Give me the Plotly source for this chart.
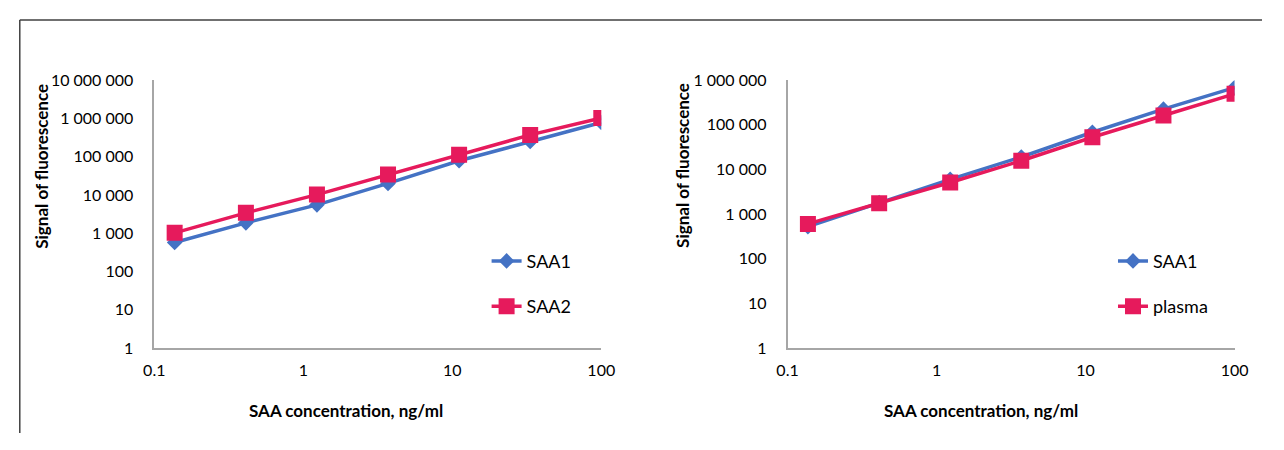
import plotly.graph_objects as go

# ---- data ----
conc = [0.137, 0.412, 1.235, 3.704, 11.11, 33.33, 100]
left_saa1 = [570, 1860, 5500, 20000, 78000, 250000, 780000]
left_saa2 = [1020, 3400, 10200, 34000, 112000, 370000, 1020000]
right_saa1 = [520, 1800, 6000, 19000, 68000, 224000, 680000]
right_plasma = [600, 1740, 5100, 15600, 52600, 161000, 494000]

left_yticks = [1, 10, 100, 1000, 10000, 100000, 1000000, 10000000]
left_ylabels = ["1", "10", "100", "1 000", "10 000", "100 000", "1 000 000", "10 000 000"]
right_yticks = [1, 10, 100, 1000, 10000, 100000, 1000000]
right_ylabels = ["1", "10", "100", "1 000", "10 000", "100 000", "1 000 000"]
xticks = [0.1, 1, 10, 100]
xlabels = ["0.1", "1", "10", "100"]

x_title = "SAA concentration, ng/ml"
y_title = "Signal of fluorescence"

BLUE = "#4472C4"
PINK = "#E61A5C"
AXIS = "#A6A6A6"
FONT = "Lato"

# page is 1284x450; body keeps its default 8px margin, so the figure fills the rest
PAGE_MARGIN = 8
W, H = 1284 - 2 * PAGE_MARGIN, 450 - 2 * PAGE_MARGIN


def px(sx):
    return (sx - PAGE_MARGIN) / W


def py(sy):
    return 1 - (sy - PAGE_MARGIN) / H


fig = go.Figure()


def add(x, y, name, color, symbol, size, xa, ya, legend, group):
    fig.add_trace(go.Scatter(
        x=x, y=y, name=name, mode="lines+markers",
        line=dict(color=color, width=3.5),
        marker=dict(symbol=symbol, size=size, color=color),
        xaxis=xa, yaxis=ya, legend=legend, legendgroup=group))


add(conc, left_saa1, "SAA1", BLUE, "diamond", 12, "x", "y", "legend", "a")
add(conc, left_saa2, "SAA2", PINK, "square", 16, "x", "y", "legend", "b")
add(conc, right_saa1, "SAA1", BLUE, "diamond", 12, "x2", "y2", "legend2", "c")
add(conc, right_plasma, "plasma", PINK, "square", 16, "x2", "y2", "legend2", "d")

ydom = [py(353), py(73)]
axis_common = dict(showgrid=False, zeroline=False, showline=True, linecolor=AXIS,
                   linewidth=1.5, ticks="", tickfont=dict(family=FONT, size=16, color="#000"))

fig.update_layout(
    width=W, height=H, margin=dict(l=0, r=0, t=0, b=0),
    paper_bgcolor="white", plot_bgcolor="white",
    font=dict(family=FONT, color="#000"),
    xaxis=dict(type="log", domain=[px(146), px(602)], range=[-1, 2], anchor="y",
               tickvals=xticks, ticktext=xlabels, ticklabelstandoff=7, **axis_common),
    yaxis=dict(type="log", domain=ydom, range=[0, 7], anchor="x",
               tickvals=left_yticks, ticktext=left_ylabels, ticklabelstandoff=16, **axis_common),
    xaxis2=dict(type="log", domain=[px(792), px(1248)], range=[-1, 2], anchor="y2",
                tickvals=xticks, ticktext=xlabels, ticklabelstandoff=7, **axis_common),
    yaxis2=dict(type="log", domain=ydom, range=[0, 6], anchor="x2",
                tickvals=right_yticks, ticktext=right_ylabels, ticklabelstandoff=16, **axis_common),
    legend=dict(x=px(485), y=py(243), xanchor="left", yanchor="top",
                font=dict(family=FONT, size=18), tracegroupgap=19, bgcolor="rgba(0,0,0,0)"),
    legend2=dict(x=px(1124), y=py(243), xanchor="left", yanchor="top",
                 font=dict(family=FONT, size=18), tracegroupgap=19, bgcolor="rgba(0,0,0,0)"),
    showlegend=True,
)

title_font = dict(family=FONT, size=17, color="#000", weight="bold")
fig.add_annotation(x=px(342), y=py(418), xref="paper", yref="paper", text=x_title,
                   showarrow=False, font=title_font, xanchor="center", yanchor="middle")
fig.add_annotation(x=px(989), y=py(418), xref="paper", yref="paper", text=x_title,
                   showarrow=False, font=title_font, xanchor="center", yanchor="middle")
fig.add_annotation(x=px(31), y=py(163), xref="paper", yref="paper", text=y_title,
                   textangle=-90, showarrow=False, font=title_font, xanchor="center", yanchor="middle")
fig.add_annotation(x=px(685), y=py(162), xref="paper", yref="paper", text=y_title,
                   textangle=-90, showarrow=False, font=title_font, xanchor="center", yanchor="middle")

# outer frame (top and left edges visible)
frame = dict(color="#404040", width=1.5)
fig.add_shape(type="line", xref="paper", yref="paper", x0=px(8.8), x1=1, y0=py(10), y1=py(10), line=frame)
fig.add_shape(type="line", xref="paper", yref="paper", x0=px(8.8), x1=px(8.8), y0=0, y1=py(10), line=frame)

fig.write_html("out.html", config={"displayModeBar": False})
